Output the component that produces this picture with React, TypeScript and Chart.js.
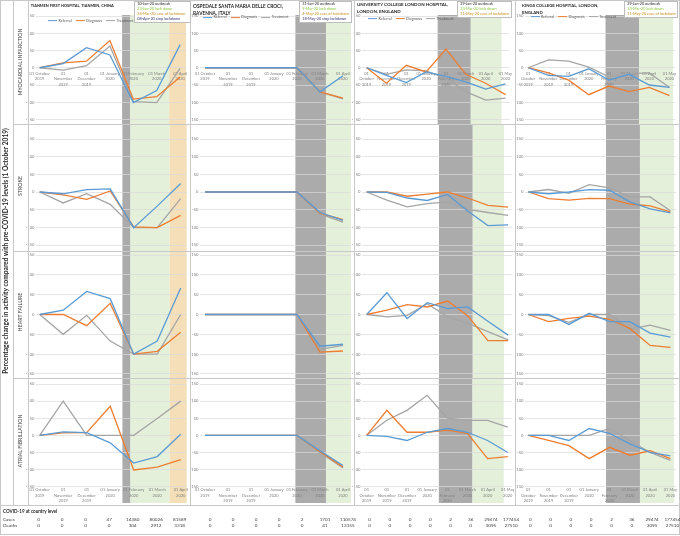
import React, { useEffect, useRef } from "react";
import { Chart, registerables } from "chart.js";
Chart.register(...registerables);

const FONT = "Lato, 'Liberation Sans', sans-serif";

// ---------- data ----------
const seriesNames = ["Referral", "Diagnosis", "Treatment"];
const conditionLabels = ["MYOCARDIAL INFARCTION", "STROKE", "HEART FAILURE", "ATRIAL FIBRILLATION"];

const tianmenTitle = ["TIANMEN FIRST HOSPITAL, TIANMEN, CHINA"];
const ravennaTitle = ["OSPEDALE SANTA MARIA DELLE CROCI,", "RAVENNA, ITALY"];
const uclhTitle = ["UNIVERSITY COLLEGE LONDON HOSPITAL,", "LONDON, ENGLAND"];
const kchTitle = ["KINGS COLLEGE HOSPITAL, LONDON,", "ENGLAND"];

const ticks7 = [["01 October", "2019"], ["01", "November", "2019"], ["01", "December", "2019"], ["01 January", "2020"], ["01 February", "2020"], ["01 March", "2020"], ["01 April", "2020"]];
const ticks8 = [["01", "October", "2019"], ["01", "November", "2019"], ["01", "December", "2019"], ["01 January", "2020"], ["01", "February", "2020"], ["01 March", "2020"], ["01 April", "2020"], ["01 May", "2020"]];

// rows: Referral, Diagnosis, Treatment
const tianmenMI = [[0, 12, 58, 37, -101, -66, 67], [0, 14, 19, 79, -91, -84, -27], [0, -7, 6, 63, -98, -101, -2]];
const tianmenStroke = [[0, -5, 7, 9, -101, -40, 24], [0, -8, -21, 3, -99, -101, -66], [0, -31, -5, -35, -101, -101, -19]];
const tianmenHF = [[0, 11, 58, 40, -100, -67, 67], [0, 0, -28, 28, -100, -93, -45], [0, -50, -2, -67, -100, -100, 0]];
const tianmenAF = [[0, 10, 8, -22, -81, -62, 3], [0, 7, 8, 85, -101, -93, -71], [0, 100, 0, 0, 0, 49, 100]];

const ravennaMI = [[0, 0, 0, 0, 0, -70, -23], [0, 0, 0, 0, 0, -70, -88], [0, 0, 0, 0, 0, -70, -90]];
const ravennaStroke = [[0, 0, 0, 0, 0, -58, -80], [0, 0, 0, 0, 0, -60, -78], [0, 0, 0, 0, 0, -62, -85]];
const ravennaHF = [[0, 0, 0, 0, 0, -80, -75], [0, 0, 0, 0, 0, -95, -92], [0, 0, 0, 0, 0, -88, -78]];
const ravennaAF = [[0, 0, 0, 0, 0, -45, -88], [0, 0, 0, 0, 0, -48, -92], [0, 0, 0, 0, 0, -50, -95]];

const uclhMI = [[0, -22, -43, -12, -25, -41, -62, -47], [0, -45, 7, -12, 54, -19, -45, -78], [0, -19, -6, -9, -31, -69, -94, -88]];
const uclhStroke = [[0, -1, -17, -24, -7, -54, -95, -93], [0, 0, -12, -6, 0, -17, -38, -43], [0, -23, -42, -33, -28, -49, -58, -66]];
const uclhHF = [[0, 55, -10, 30, 15, 19, -17, -52], [0, 11, 25, 19, 34, -3, -66, -66], [0, -6, -2, 27, -6, -22, -43, -64]];
const uclhAF = [[0, -3, -15, 9, 20, 9, -15, -50], [0, 73, 9, 9, 15, 6, -68, -62], [0, 44, 73, 117, 50, 44, 44, 24]];

const kchMI = [[0, -22, -25, -3, -36, -19, -50, -57], [0, -15, -36, -78, -53, -69, -57, -81], [0, 23, 19, 2, -26, -17, -15, -57]];
const kchStroke = [[0, -5, 0, 7, 5, -28, -48, -59], [0, -19, -23, -18, -19, -34, -39, -56], [0, 7, -4, 21, 12, -14, -14, -53]];
const kchHF = [[0, 0, -25, 3, -18, -18, -47, -57], [0, -18, -10, -4, -12, -35, -78, -83], [0, -3, -20, 0, 0, -37, -27, -40]];
const kchAF = [[0, 0, -15, 20, 6, -25, -50, -60], [0, -15, -30, -68, -35, -58, -45, -68], [0, 0, 0, 0, 20, -15, -50, -73]];

// phase boundaries in month-index units (0 = 01 October 2019): outbreak, lockdown, ease, end
const tianmenBands = [3.52, 3.86, 5.53, 6.3];
const ravennaBands = [3.93, 5.26, 6.4];
const uclhBands = [3.58, 5.25, 6.8];
const kchBands = [3.83, 5.5, 7.18];

const tianmenEvents = ["10-Jan-20 outbreak", "23-Jan-20 lock down", "24-Mar-20 ease of lockdown", "08-Apr-20 stop lockdown"];
const ravennaEvents = ["31-Jan-20 outbreak", "9-Mar-20 lock down", "4-May-20 ease of lockdown", "18-May-20 stop lockdown"];
const uclhEvents = ["29-Jan-20 outbreak", "23-Mar-20 lock down", "11-May-20 ease of lockdown"];
const kchEvents = ["29-Jan-20 outbreak", "23-Mar-20 lock down", "11-May-20 ease of lockdown"];

const chinaCases = [0, 0, 0, 47, 14380, 80026, 81589];
const chinaDeaths = [0, 0, 0, 0, 304, 2912, 3318];
const italyCases = [0, 0, 0, 0, 2, 1701, 110574];
const italyDeaths = [0, 0, 0, 0, 0, 41, 13155];
const ukCases = [0, 0, 0, 0, 2, 36, 29474, 177454];
const ukDeaths = [0, 0, 0, 0, 0, 0, 3095, 27510];

const HOSPITALS = [
  { title: tianmenTitle, ticks: ticks7, rows: [tianmenMI, tianmenStroke, tianmenHF, tianmenAF], bands: tianmenBands, events: tianmenEvents, cases: chinaCases, deaths: chinaDeaths },
  { title: ravennaTitle, ticks: ticks7, rows: [ravennaMI, ravennaStroke, ravennaHF, ravennaAF], bands: ravennaBands, events: ravennaEvents, cases: italyCases, deaths: italyDeaths },
  { title: uclhTitle, ticks: ticks8, rows: [uclhMI, uclhStroke, uclhHF, uclhAF], bands: uclhBands, events: uclhEvents, cases: ukCases, deaths: ukDeaths },
  { title: kchTitle, ticks: ticks8, rows: [kchMI, kchStroke, kchHF, kchAF], bands: kchBands, events: kchEvents, cases: ukCases, deaths: ukDeaths },
];

// ---------- styles / layout ----------
const SERIES_COLORS = ["#5b9bd5", "#ed7d31", "#a5a5a5"];
const BAND_COLORS = ["#ababab", "#e4f0da", "#f4dfb9"];
const EVENT_COLORS = ["#262626", "#8cc63f", "#c8901c", "#3b3b7a"];
const LINE_COLOR = "#c9c9c9";
const BAND_TOP = 15;
const BAND_BOTTOM = 503;

const COLS = [
  { left: 24, right: 190, plotLeft: 36, plotRight: 186.7, firstX: 39.7, step: 23.5 },
  { left: 186, right: 354, plotLeft: 200, plotRight: 351, firstX: 205, step: 23 },
  { left: 350, right: 515, plotLeft: 362, plotRight: 512, firstX: 366.7, step: 20.2 },
  { left: 511, right: 679, plotLeft: 525, plotRight: 676, firstX: 528.3, step: 20.3 },
];
const ROWS = [
  { top: 0, height: 124, plotTop: 16, plotBottom: 119.5 },
  { top: 124, height: 127, plotTop: 139, plotBottom: 245 },
  { top: 251, height: 127, plotTop: 254.3, plotBottom: 374.3 },
  { top: 378, height: 127, plotTop: 384, plotBottom: 486.7 },
];
const TITLE_POS = [
  { x: 30.7, y: [5.7], size: 3.9 },
  { x: 193, y: [5.7, 12.7], size: 4.8 },
  { x: 357, y: [5, 11.7], size: 4.5 },
  { x: 522, y: [6, 13.3], size: 4.3 },
];
const LEGEND_POS = [{ x: 48, y: 20.5 }, { x: 203, y: 17.3 }, { x: 368, y: 19 }, { x: 530.5, y: 16.7 }];
const EVENT_BOX = [
  { x: 134, y: 1, w: 57, h: 22 },
  { x: 299, y: 1, w: 53, h: 22 },
  { x: 457, y: 1, w: 55, h: 17 },
  { x: 624, y: 1, w: 54, h: 17 },
];
const TABLE_SHIFT = [-1, 5, 3, 2];
const ROW_LABEL_Y = [62, 186, 312, 441];

function Panel({ col, row }: { col: number; row: number }) {
  const ref = useRef<HTMLCanvasElement | null>(null);
  const C = COLS[col];
  const R = ROWS[row];
  const w = C.right - C.left;
  const h = R.height;
  useEffect(() => {
    const hosp = HOSPITALS[col];
    const series = hosp.rows[row];
    const labels = hosp.ticks;
    const xMin = (C.plotLeft - C.firstX) / C.step;
    const xMax = (C.plotRight - C.firstX) / C.step;
    const bandsPlugin = {
      id: "phaseBands",
      beforeDraw(chart: any) {
        const xs = chart.scales.x;
        const ctx = chart.ctx;
        const ca = chart.chartArea;
        const b = hosp.bands;
        const y0 = Math.max(BAND_TOP - R.top, 0);
        const y1 = Math.min(BAND_BOTTOM - R.top, h);
        ctx.save();
        for (let i = 0; i < b.length - 1; i++) {
          const x0 = xs.getPixelForValue(b[i]);
          const x1 = Math.min(xs.getPixelForValue(b[i + 1]), ca.right);
          ctx.fillStyle = BAND_COLORS[i];
          ctx.fillRect(x0, y0, x1 - x0, y1 - y0);
        }
        ctx.restore();
      },
    };
    const showX = row === 0 || row === 3;
    const chart = new Chart(ref.current as HTMLCanvasElement, {
      type: "line",
      data: {
        datasets: series.map((vals, si) => ({
          label: seriesNames[si],
          data: vals.map((v, i) => ({ x: i, y: v })),
          borderColor: SERIES_COLORS[si],
          backgroundColor: SERIES_COLORS[si],
          borderWidth: 1.3,
          pointRadius: 0,
          tension: 0,
          fill: false,
        })),
      },
      options: {
        animation: false,
        responsive: false,
        events: [],
        layout: {
          padding: {
            left: 0,
            right: C.right - C.plotRight,
            top: R.plotTop - R.top,
            bottom: R.top + R.height - R.plotBottom,
          },
        },
        plugins: { legend: { display: false }, tooltip: { enabled: false } },
        scales: {
          x: {
            type: "linear",
            min: xMin,
            max: xMax,
            bounds: "data",
            display: showX,
            position: row === 0 ? { y: 0 } : { y: -150 },
            grid: { display: false, drawTicks: false },
            border: { display: false },
            afterBuildTicks: (s: any) => {
              s.ticks = labels.map((_, i) => ({ value: i }));
            },
            ticks: {
              autoSkip: false,
              maxRotation: 0,
              minRotation: 0,
              padding: row === 0 ? 2.75 : 0.5,
              color: "#808080",
              font: { family: FONT, size: 4, lineHeight: 1.4 },
              callback: (v: any) => labels[Math.round(Number(v))],
            },
          } as any,
          y: {
            min: -150,
            max: 150,
            afterFit: (a: any) => {
              a.width = C.plotLeft - C.left;
            },
            grid: { color: "#dadada", lineWidth: 0.7, drawTicks: false },
            border: { display: false },
            ticks: {
              stepSize: 50,
              padding: 1.5,
              color: "#808080",
              font: { family: FONT, size: 4.2 },
            },
          },
        },
      },
      plugins: [bandsPlugin],
    });
    return () => chart.destroy();
  }, []);
  return (
    <canvas
      ref={ref}
      width={w}
      height={h}
      style={{ position: "absolute", left: C.left, top: R.top, width: w, height: h }}
    />
  );
}

function T(props: { x: number; y: number; size: number; text: string; bold?: boolean; color?: string; center?: boolean }) {
  return (
    <div
      style={{
        position: "absolute",
        left: props.x,
        top: props.y,
        transform: props.center ? "translate(-50%,-50%)" : "translateY(-50%)",
        fontSize: props.size,
        lineHeight: 1,
        fontWeight: props.bold ? 700 : 400,
        color: props.color || "#404040",
        whiteSpace: "nowrap",
        fontFamily: FONT,
      }}
    >
      {props.text}
    </div>
  );
}

function HLine({ x1, x2, y }: { x1: number; x2: number; y: number }) {
  return <div style={{ position: "absolute", left: x1, top: y, width: x2 - x1, height: 1, background: LINE_COLOR }} />;
}
function VLine({ x, y1, y2 }: { x: number; y1: number; y2: number }) {
  return <div style={{ position: "absolute", left: x, top: y1, width: 1, height: y2 - y1, background: LINE_COLOR }} />;
}

export default function App() {
  const panels = [];
  for (let c = 0; c < 4; c++) for (let r = 0; r < 4; r++) panels.push(<Panel key={`${c}-${r}`} col={c} row={r} />);

  return (
    <div style={{ position: "fixed", left: 0, top: 0, width: 680, height: 536, background: "#fff", overflow: "hidden", fontFamily: FONT }}>
      {panels}

      {/* frame lines */}
      <div style={{ position: "absolute", left: 0, top: 0, width: 680, height: 535, border: `1px solid ${LINE_COLOR}`, boxSizing: "border-box" }} />
      <VLine x={13} y1={0} y2={505} />
      <VLine x={28} y1={0} y2={505} />
      <VLine x={190} y1={0} y2={505} />
      <VLine x={354} y1={0} y2={505} />
      <VLine x={515} y1={0} y2={505} />
      <HLine x1={13} x2={680} y={124} />
      <HLine x1={13} x2={680} y={251} />
      <HLine x1={13} x2={680} y={378} />
      <HLine x1={0} x2={680} y={505} />

      {/* y-axis title */}
      <div
        style={{
          position: "absolute", left: 5, top: 251, transform: "translate(-50%,-50%) rotate(-90deg)",
          fontSize: 6.6, fontWeight: 700, color: "#262626", whiteSpace: "nowrap", lineHeight: 1,
        }}
      >
        Percentage change in activity compared with pre-COVID-19 levels (1 October 2019)
      </div>

      {/* row labels */}
      {conditionLabels.map((lab, i) => (
        <div
          key={lab}
          style={{
            position: "absolute", left: 20.7, top: ROW_LABEL_Y[i], transform: "translate(-50%,-50%) rotate(-90deg)",
            fontSize: 5.3, color: "#404040", whiteSpace: "nowrap", lineHeight: 1,
          }}
        >
          {lab}
        </div>
      ))}

      {/* titles */}
      {HOSPITALS.map((h, c) =>
        h.title.map((line, li) => (
          <T key={`t${c}${li}`} x={TITLE_POS[c].x} y={TITLE_POS[c].y[li]} size={TITLE_POS[c].size} text={line} bold color="#262626" />
        ))
      )}

      {/* legends */}
      {HOSPITALS.map((h, c) => (
        <div key={`lg${c}`} style={{ position: "absolute", left: LEGEND_POS[c].x, top: LEGEND_POS[c].y, transform: "translateY(-50%)", display: "flex", alignItems: "center", whiteSpace: "nowrap" }}>
          {seriesNames.map((s, si) => (
            <div key={s} style={{ display: "flex", alignItems: "center", marginRight: 4 }}>
              <div style={{ width: 9, height: 1.2, background: SERIES_COLORS[si], marginRight: 1.5 }} />
              <span style={{ fontSize: 3.8, color: "#595959", lineHeight: 1 }}>{s}</span>
            </div>
          ))}
        </div>
      ))}

      {/* event boxes */}
      {HOSPITALS.map((h, c) => (
        <div key={`ev${c}`} style={{ position: "absolute", left: EVENT_BOX[c].x, top: EVENT_BOX[c].y, width: EVENT_BOX[c].w, height: EVENT_BOX[c].h, background: "#fff", border: "0.6px solid #bdbdbd", boxSizing: "border-box" }}>
          {h.events.map((e, ei) => (
            <div key={e} style={{ position: "absolute", left: 2.2, top: 3.3 + ei * 5 - 1, transform: "translateY(-50%)", fontSize: 3.8, lineHeight: 1, color: EVENT_COLORS[ei], whiteSpace: "nowrap" }}>
              {e}
            </div>
          ))}
        </div>
      ))}

      {/* table */}
      <T x={3} y={511} size={4.6} text="COVID-19 at country level" bold color="#262626" />
      <T x={3} y={519} size={4.6} text="Cases" color="#404040" />
      <T x={3} y={525} size={4.6} text="Deaths" color="#404040" />
      {HOSPITALS.map((h, c) =>
        h.cases.map((v, i) => (
          <T key={`c${c}${i}`} x={COLS[c].firstX + i * COLS[c].step + TABLE_SHIFT[c]} y={519} size={4.6} text={String(v)} center />
        ))
      )}
      {HOSPITALS.map((h, c) =>
        h.deaths.map((v, i) => (
          <T key={`d${c}${i}`} x={COLS[c].firstX + i * COLS[c].step + TABLE_SHIFT[c]} y={525} size={4.6} text={String(v)} center />
        ))
      )}
    </div>
  );
}
